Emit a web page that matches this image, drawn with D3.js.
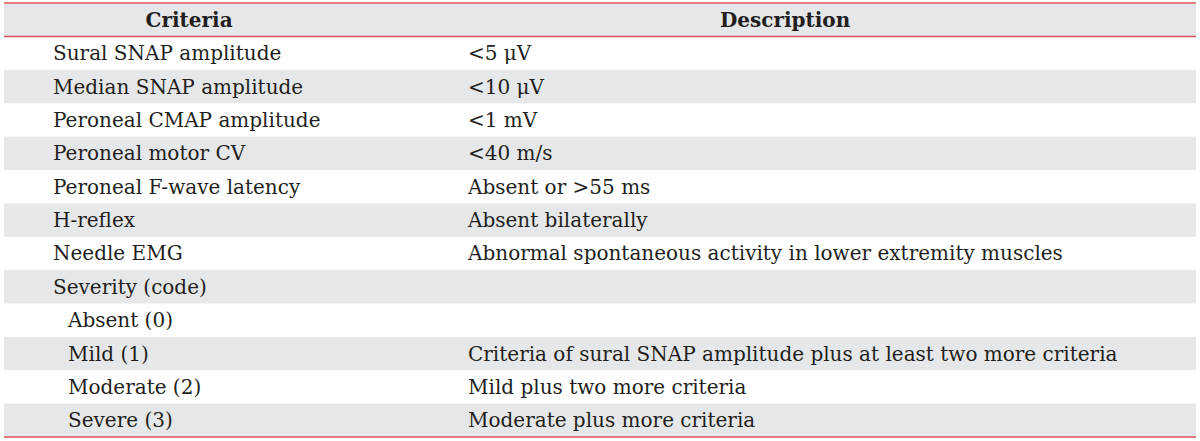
<!DOCTYPE html>
<html>
<head>
<meta charset="utf-8">
<script src="https://cdn.jsdelivr.net/npm/d3@7"></script>
<style>
  body { margin: 0; background: #fff; }
  svg text { font-family: "DejaVu Serif", serif; fill: #231f20; }
</style>
</head>
<body>
<svg id="table" width="1200" height="441"></svg>
<script>
var headers = ["Criteria", "Description"];
var criteria = [
  "Sural SNAP amplitude",
  "Median SNAP amplitude",
  "Peroneal CMAP amplitude",
  "Peroneal motor CV",
  "Peroneal F-wave latency",
  "H-reflex",
  "Needle EMG",
  "Severity (code)",
  "Absent (0)",
  "Mild (1)",
  "Moderate (2)",
  "Severe (3)"
];
var descriptions = [
  "<5 \u03bcV",
  "<10 \u03bcV",
  "<1 mV",
  "<40 m/s",
  "Absent or >55 ms",
  "Absent bilaterally",
  "Abnormal spontaneous activity in lower extremity muscles",
  "",
  "",
  "Criteria of sural SNAP amplitude plus at least two more criteria",
  "Mild plus two more criteria",
  "Moderate plus more criteria"
];
var indented = [0, 0, 0, 0, 0, 0, 0, 0, 1, 1, 1, 1];

var svg = d3.select("#table"),
    left = 4, right = 1196,
    headTop = 4, headBottom = 36.5,
    bodyBottom = 437;

var x = d3.scaleLinear().domain([0, 1]).range([left, right]);
var split = 0.3105; // column boundary as a fraction of the table width

var y = d3.scaleBand()
    .domain(d3.range(criteria.length))
    .range([headBottom, bodyBottom])
    .padding(0);

// header band
svg.append("rect")
    .attr("x", left).attr("y", headTop)
    .attr("width", right - left).attr("height", headBottom - headTop)
    .attr("fill", "#e6e7e8");

// zebra rows
svg.selectAll(".stripe")
    .data(d3.range(criteria.length).filter(function(i) { return i % 2 === 1; }))
  .enter().append("rect")
    .attr("class", "stripe")
    .attr("x", left)
    .attr("y", function(i) { return y(i); })
    .attr("width", right - left)
    .attr("height", y.bandwidth())
    .attr("fill", "#e6e7e8");

// header labels, centred in each column
var colCenters = [x(split / 2), x(split + (1 - split) / 2)];
svg.selectAll(".head")
    .data(headers)
  .enter().append("text")
    .attr("class", "head")
    .attr("x", function(d, i) { return colCenters[i]; })
    .attr("y", (headTop + headBottom) / 2 + 7)
    .attr("text-anchor", "middle")
    .style("font-size", "20px")
    .style("font-weight", "bold")
    .text(function(d) { return d; });

// body text
var row = svg.selectAll(".row")
    .data(criteria)
  .enter().append("g")
    .attr("class", "row")
    .attr("transform", function(d, i) { return "translate(0," + (y(i) + y.bandwidth() / 2 + 7) + ")"; });

row.append("text")
    .attr("x", function(d, i) { return indented[i] ? 68 : 53; })
    .style("font-size", "20px")
    .text(function(d) { return d; });

row.append("text")
    .attr("x", 468)
    .style("font-size", "20px")
    .text(function(d, i) { return descriptions[i]; });

// red rules
[3, headBottom, bodyBottom].forEach(function(ly) {
  svg.append("line")
      .attr("x1", left).attr("x2", right)
      .attr("y1", ly).attr("y2", ly)
      .attr("stroke", "#d9545c")
      .attr("stroke-width", 1.6);
});
</script>
</body>
</html>
